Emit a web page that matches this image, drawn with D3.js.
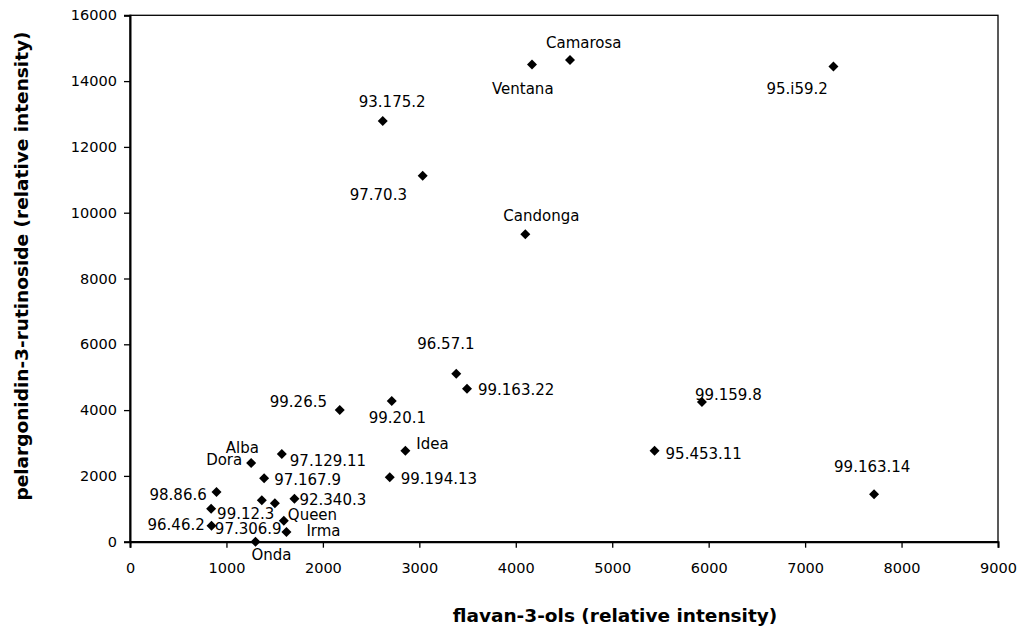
<!DOCTYPE html>
<html>
<head>
<meta charset="utf-8">
<script src="https://cdn.jsdelivr.net/npm/d3@7"></script>
<style>
  html,body{margin:0;padding:0;background:#fff;}
  svg text{font-family:"DejaVu Sans",Verdana,sans-serif;fill:#000;}
</style>
</head>
<body>
<div id="chart"></div>
<script>
// cultivars / selections
const names = ['Camarosa','Ventana','95.i59.2','93.175.2','97.70.3','Candonga',
  '96.57.1','99.163.22','99.20.1','99.26.5','99.159.8','Idea','95.453.11',
  '99.194.13','99.163.14','97.129.11','Dora','Alba','97.167.9','98.86.6',
  '99.12.3','92.340.3','97.306.9','Queen','96.46.2','Irma','Onda'];
const flavanols = [4562,4168,7294,2621,3035,4099,3383,3494,2714,2175,5930,2855,5439,
  2693,7715,1574,1256,1367,1391,897,841,1705,1502,1595,845,1622,1301];
const pelargonidin = [14644,14501,14440,12789,11126,9345,5107,4651,4277,4004,4247,2766,2766,
  1958,1441,2666,2392,1258,1927,1511,1003,1307,1167,638,486,295,0];
const xTicks = [0,1000,2000,3000,4000,5000,6000,7000,8000,9000];
const yTicks = [0,2000,4000,6000,8000,10000,12000,14000,16000];

// label placement (px, relative to the marker) – hand tuned
const labelOffset = [[-24,-12],[-40,29],[-67,27],[-24,-14],[-73,24],[-22,-13],
  [-39,-25],[11,6],[-23,22],[-70,-3],[-7,-2],[11,-2],[11,8],
  [11,7],[-40,-22],[8,12],[-45,2],[-36,-47],[10,7],[-67,8],
  [6,10],[5,6],[-60,31],[4,-1],[-64,4],[20,4],[-4,18]];

const W = 1020, H = 628;
const M = {left:130, right:W-998, top:15.3, bottom:H-541.7};

const svg = d3.select('#chart').append('svg')
  .attr('width',W).attr('height',H);

const x = d3.scaleLinear().domain([0,9000]).range([M.left, W-M.right]);
const y = d3.scaleLinear().domain([0,16000]).range([H-M.bottom, M.top]);

// plot frame
svg.append('rect')
  .attr('x',x(0)).attr('y',y(16000))
  .attr('width',x(9000)-x(0)).attr('height',y(0)-y(16000))
  .attr('fill','none').attr('stroke','#000').attr('stroke-width',1.3);

/* ---- axes ---- */
const xAxis = svg.append('g')
  .attr('transform',`translate(0,${y(0)})`)
  .call(d3.axisBottom(x).tickValues(xTicks).tickFormat(d3.format('d'))
        .tickSizeOuter(0).tickSize(6).tickPadding(15));
const yAxis = svg.append('g')
  .attr('transform',`translate(${x(0)},0)`)
  .call(d3.axisLeft(y).tickValues(yTicks).tickFormat(d3.format('d'))
        .tickSizeOuter(0).tickSize(6).tickPadding(7));

[xAxis,yAxis].forEach(g=>{
  g.select('.domain').attr('stroke','#000').attr('stroke-width',2);
  g.selectAll('.tick line').attr('stroke','#000').attr('stroke-width',1.3);
  g.selectAll('.tick text').attr('font-size','14.5px')
   .attr('font-family','"DejaVu Sans",Verdana,sans-serif').attr('fill','#000');
});

/* ---- titles ---- */
svg.append('text')
  .attr('x',615).attr('y',622)
  .attr('text-anchor','middle')
  .attr('font-size','18.5px').attr('font-weight','bold')
  .text('flavan-3-ols (relative intensity)');

svg.append('text')
  .attr('transform','translate(28,266) rotate(-90)')
  .attr('text-anchor','middle')
  .attr('font-size','18.5px').attr('font-weight','bold')
  .text('pelargonidin-3-rutinoside (relative intensity)');

/* ---- points ---- */
const data = names.map((n,i)=>({name:n, fx:flavanols[i], py:pelargonidin[i], off:labelOffset[i]}));
const marker = d3.symbol().type(d3.symbolSquare).size(50);

svg.append('g').selectAll('path')
  .data(data).join('path')
    .attr('d',marker)
    .attr('transform',d=>`translate(${x(d.fx)},${y(d.py)}) rotate(45)`)
    .attr('fill','#000');

svg.append('g').selectAll('text')
  .data(data).join('text')
    .attr('x',d=>x(d.fx)+d.off[0])
    .attr('y',d=>y(d.py)+d.off[1])
    .attr('font-size','15px')
    .text(d=>d.name);
</script>
</body>
</html>
